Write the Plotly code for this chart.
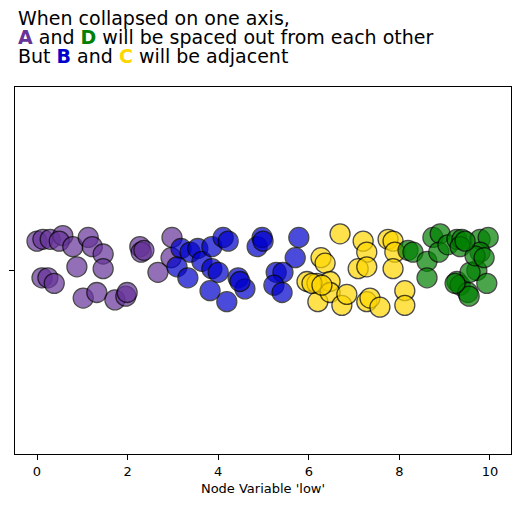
import plotly.graph_objects as go

# Group A (purple)
a_x = [0.00, 0.13, 0.29, 0.57, 0.49, 0.79, 1.13, 1.22, 1.46, 0.88, 1.46, 0.11, 0.24,
       0.38, 1.02, 1.32, 1.72, 1.96, 1.99, 2.27, 2.30, 2.36, 2.67, 2.98, 2.96]
a_y = [0.16, 0.17, 0.17, 0.19, 0.16, 0.13, 0.18, 0.13, 0.09, 0.02, 0.01, -0.04, -0.04,
       -0.07, -0.15, -0.12, -0.16, -0.14, -0.12, 0.13, 0.10, 0.11, -0.01, 0.18, 0.07]
# Group B (blue)
b_x = [3.18, 3.38, 3.55, 3.09, 3.33, 3.64, 3.86, 4.11, 4.22, 3.86, 4.00, 3.82, 4.44,
       4.59, 4.19, 4.86, 4.97, 4.99, 5.78, 5.70, 5.28, 5.43, 5.23, 5.41, 4.48]
b_y = [0.12, 0.10, 0.12, 0.02, -0.04, 0.05, 0.13, 0.18, 0.16, 0.01, -0.01, -0.11, -0.04,
       -0.10, -0.17, 0.13, 0.18, 0.16, 0.18, 0.07, -0.01, -0.01, -0.08, -0.12, -0.06]
# Group C (gold)
c_x = [6.69, 6.27, 6.36, 7.20, 7.28, 7.09, 7.28, 5.96, 6.18, 6.47, 6.20, 6.47, 6.73,
       6.84, 7.28, 7.35, 7.57, 7.75, 7.86, 7.90, 7.86, 8.12, 8.12, 6.07, 6.29]
c_y = [0.20, 0.07, 0.04, 0.16, 0.10, 0.01, 0.02, -0.06, -0.07, -0.06, -0.17, -0.12, -0.19,
       -0.13, -0.17, -0.15, -0.20, 0.17, 0.16, 0.10, 0.01, -0.11, -0.19, -0.07, -0.08]
# Group D (green)
d_x = [8.19, 8.30, 8.61, 8.61, 8.74, 8.90, 8.87, 9.07, 9.27, 9.38, 9.34, 9.78, 9.96,
       9.78, 9.71, 9.93, 9.27, 9.34, 9.51, 9.54, 9.56, 9.67, 9.45, 9.87, 9.23]
d_y = [0.11, 0.10, 0.05, -0.04, 0.18, 0.20, 0.10, 0.14, 0.17, 0.17, 0.13, 0.17, 0.18,
       0.10, 0.00, -0.07, -0.06, -0.08, -0.12, -0.14, -0.01, 0.08, 0.16, 0.07, -0.07]

x_ticks = [0, 2, 4, 6, 8, 10]

groups = [
    (a_x, a_y, "#663399"),
    (b_x, b_y, "#0000CD"),
    (c_x, c_y, "#FFD700"),
    (d_x, d_y, "#008000"),
]

fig = go.Figure()
for gx, gy, col in groups:
    fig.add_trace(go.Scatter(
        x=gx, y=gy, mode="markers",
        marker=dict(size=20, color=col, opacity=0.7,
                    line=dict(color="black", width=1.3)),
        showlegend=False, hoverinfo="skip"))

font_family = "DejaVu Sans"
title_lines = [
    "When collapsed on one axis,",
    "<b><span style='color:#663399'>A</span></b> and "
    "<b><span style='color:#008000'>D</span></b> will be spaced out from each other",
    "But <b><span style='color:#0000CD'>B</span></b> and "
    "<b><span style='color:#FFD700'>C</span></b> will be adjacent",
]
annotations = []
for i, t in enumerate(title_lines):
    annotations.append(dict(
        text=t, xref="paper", yref="paper", xanchor="left", yanchor="middle",
        x=(16 - 15) / 496.0,
        y=1 + (87 - (18 + 19 * i)) / 367.0,
        showarrow=False, align="left",
        font=dict(family=font_family, size=19, color="black")))

fig.update_layout(
    width=520, height=509,
    margin=dict(l=15, r=9, t=87, b=55, autoexpand=False),
    plot_bgcolor="white", paper_bgcolor="white",
    font=dict(family=font_family, size=13, color="black"),
    annotations=annotations,
    xaxis=dict(range=[-0.486, 10.464], tickvals=x_ticks, ticks="outside", ticklen=5,
               tickcolor="black", showgrid=False, zeroline=False, automargin=False,
               showline=True, linecolor="black", linewidth=1, mirror=True,
               title=dict(text="Node Variable 'low'", font=dict(size=13), standoff=6),
               tickfont=dict(size=13)),
    yaxis=dict(range=[-1, 1], tickvals=[0], ticktext=[""], ticks="outside", ticklen=5,
               tickcolor="black", showgrid=False, zeroline=False, automargin=False,
               showline=True, linecolor="black", linewidth=1, mirror=True),
)

fig.write_html("out.html",
               config={"displayModeBar": False},
               post_script="document.body.style.margin='0';document.body.style.overflow='hidden';")
